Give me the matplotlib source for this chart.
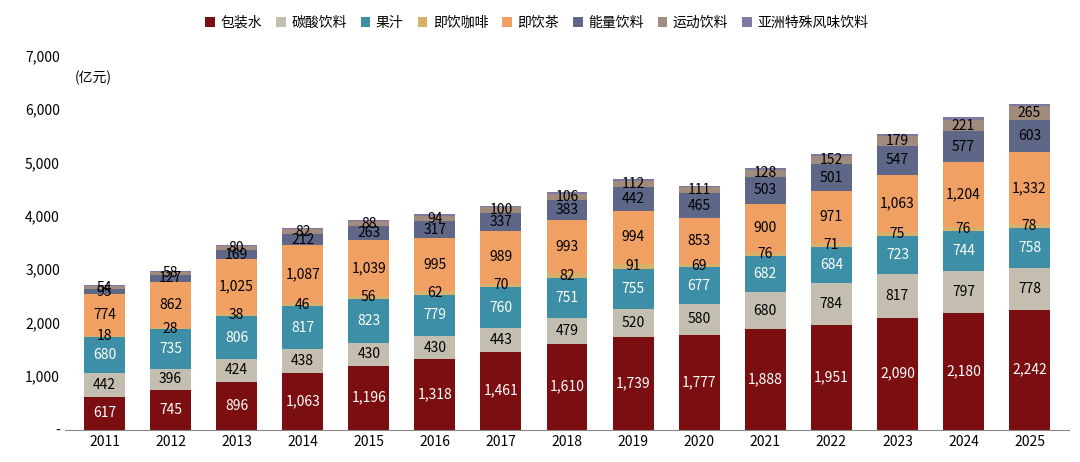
import numpy as np
import matplotlib.pyplot as plt

plt.rcParams['font.family'] = ['Noto Sans CJK SC', 'DejaVu Sans']

years = [str(y) for y in range(2011, 2026)]
names = ['包装水', '碳酸饮料', '果汁', '即饮咖啡', '即饮茶', '能量饮料', '运动饮料', '亚洲特殊风味饮料']
water = [617, 745, 896, 1063, 1196, 1318, 1461, 1610, 1739, 1777, 1888, 1951, 2090, 2180, 2242]
soda = [442, 396, 424, 438, 430, 430, 443, 479, 520, 580, 680, 784, 817, 797, 778]
juice = [680, 735, 806, 817, 823, 779, 760, 751, 755, 677, 682, 684, 723, 744, 758]
coffee = [18, 28, 38, 46, 56, 62, 70, 82, 91, 69, 76, 71, 75, 76, 78]
tea = [774, 862, 1025, 1087, 1039, 995, 989, 993, 994, 853, 900, 971, 1063, 1204, 1332]
energy = [95, 127, 169, 212, 263, 317, 337, 383, 442, 465, 503, 501, 547, 577, 603]
sports = [54, 58, 80, 82, 88, 94, 100, 106, 112, 111, 128, 152, 179, 221, 265]
asian = [20, 22, 25, 28, 30, 30, 32, 34, 35, 35, 37, 38, 40, 42, 44]
series = [water, soda, juice, coffee, tea, energy, sports, asian]
colors = ['#7A0E10', '#C3BEAF', '#3C8FA6', '#D8B06A', '#EFA062', '#5E6787', '#A08B7C', '#7E79A3']
txt_colors = ['white', 'black', 'white', 'black', 'black', 'black', 'black', None]

fig, ax = plt.subplots(figsize=(10.8, 4.62), dpi=100)
x = np.arange(len(years))
bottom = np.zeros(len(years))
for vals, name, c, tc in zip(series, names, colors, txt_colors):
    vals = np.array(vals)
    ax.bar(x, vals, 0.62, bottom=bottom, color=c, label=name)
    if tc:
        for xi, b, v in zip(x, bottom, vals):
            ax.text(xi, b + v / 2, f'{v:,}', ha='center', va='center', fontsize=10, color=tc)
    bottom += vals

ax.set_xlim(-0.6, len(years) - 0.4)
ax.set_ylim(0, 7000)
ax.set_yticks(range(0, 7001, 1000))
ax.set_yticklabels(['-'] + [f'{v:,}' for v in range(1000, 7001, 1000)])
ax.set_xticks(x, years)
ax.tick_params(labelsize=10, length=0)
for s in ['top', 'right', 'left']:
    ax.spines[s].set_visible(False)
ax.spines['bottom'].set_color('#888888')
ax.text(0.01, 0.96, '(亿元)', transform=ax.transAxes, fontsize=10, va='top')
ax.legend(loc='upper center', bbox_to_anchor=(0.47, 1.14), ncol=8, frameon=False,
          fontsize=10, handlelength=0.7, handleheight=0.7, columnspacing=1.0, handletextpad=0.4)
plt.subplots_adjust(left=0.06, right=0.99, top=0.88, bottom=0.07)
plt.savefig('out.png')
